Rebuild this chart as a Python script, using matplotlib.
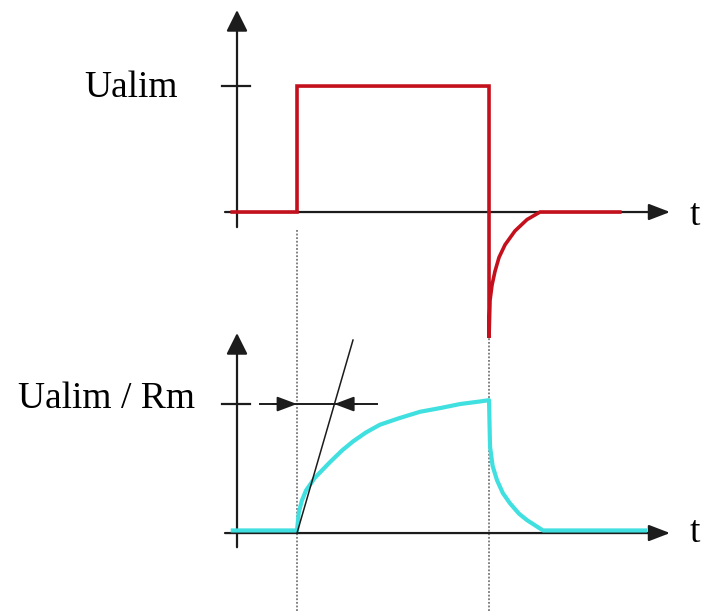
import numpy as np
from matplotlib import pyplot as plt

# voltage (top): time in arbitrary units, voltage in units of Ualim
t_red = [-0.08, 1.0, 1.0, 4.2, 4.2, 4.217, 4.25, 4.3, 4.367, 4.467, 4.633, 4.833, 5.05, 6.38]
u_red = [0.0, 0.0, 1.0, 1.0, -1.0, -0.70, -0.58, -0.47, -0.36, -0.26, -0.15, -0.06, 0.0, 0.0]

# current (bottom): in units of Ualim / Rm
t_cyan = [-0.07, 1.0, 1.03, 1.08, 1.15, 1.3, 1.55, 1.75, 1.933, 2.15, 2.383, 2.7, 3.05,
          3.4, 3.717, 4.05, 4.2, 4.217, 4.26, 4.333, 4.43, 4.55, 4.7, 4.833, 5.1, 6.8]
i_cyan = [0.02, 0.02, 0.16, 0.25, 0.33, 0.43, 0.55, 0.64, 0.71, 0.78, 0.84, 0.89, 0.94,
          0.97, 1.0, 1.02, 1.03, 0.67, 0.52, 0.41, 0.31, 0.23, 0.15, 0.10, 0.02, 0.02]

t_on, t_off = 1.0, 4.2
tau = 0.62
tangent_t = [1.0, 1.933]
tangent_i = [0.0, 1.496]

axcol = '#1c1c1c'
red = '#c4101c'
cyan = '#40e0e0'
fnt = {'family': 'Liberation Serif', 'size': 27}

fig = plt.figure(figsize=(7.07, 6.12), dpi=100)

ax1 = fig.add_axes([0, 0, 1, 1])
ax1.set_xlim(-3.95, 7.833)
ax1.set_ylim(-3.175, 1.683)
ax2 = fig.add_axes([0, 0, 1, 1])
ax2.set_xlim(-3.95, 7.833)
ax2.set_ylim(-0.612, 4.132)
for ax in (ax1, ax2):
    ax.axis('off')
    ax.patch.set_alpha(0)


def arrow(ax, start, tip, hl=1.3, hw=0.5, lw=1.6):
    ax.annotate('', xy=tip, xytext=start,
                arrowprops=dict(arrowstyle=f'-|>,head_length={hl},head_width={hw}',
                                color=axcol, lw=lw, shrinkA=0, shrinkB=0,
                                mutation_scale=10))


# dotted guide lines
for tx in (t_on, t_off):
    ax1.plot([tx, tx], [-0.14, -3.2], color='#777777', lw=1.3,
             linestyle=(0, (1, 1)), zorder=1)

# top axes
arrow(ax1, (-0.2, 0), (7.217, 0))
arrow(ax1, (0, -0.12), (0, 1.603), hl=1.3, hw=0.65)
ax1.plot([-0.25, 0.217], [1, 1], color=axcol, lw=1.6)
ax1.plot(t_red, u_red, color=red, lw=2.6, zorder=3, solid_joinstyle='miter')
ax1.text(-0.98, 0.913, 'Ualim', ha='right', va='baseline', fontdict=fnt)
ax1.text(7.55, -0.1, 't', ha='left', va='baseline', fontdict=fnt)

# bottom axes
arrow(ax2, (-0.2, 0), (7.217, 0))
arrow(ax2, (0, -0.11), (0, 1.55), hl=1.3, hw=0.65)
ax2.plot([-0.25, 0.217], [1, 1], color=axcol, lw=1.6)
ax2.plot(tangent_t, tangent_i, color=axcol, lw=1.1, zorder=4)
ax2.plot(t_cyan, i_cyan, color=cyan, lw=3, zorder=3)
ax2.plot([0.383, 2.333], [1, 1], color=axcol, lw=1.4)
arrow(ax2, (0.6, 1), (t_on, 1), hl=1.2, hw=0.45, lw=1.4)
arrow(ax2, (2.0, 1), (t_on + tau, 1), hl=1.2, hw=0.45, lw=1.4)
ax2.text(-0.7, 0.969, 'Ualim / Rm', ha='right', va='baseline', fontdict=fnt)
ax2.text(7.55, -0.07, 't', ha='left', va='baseline', fontdict=fnt)

fig.savefig('out.png', dpi=100)
